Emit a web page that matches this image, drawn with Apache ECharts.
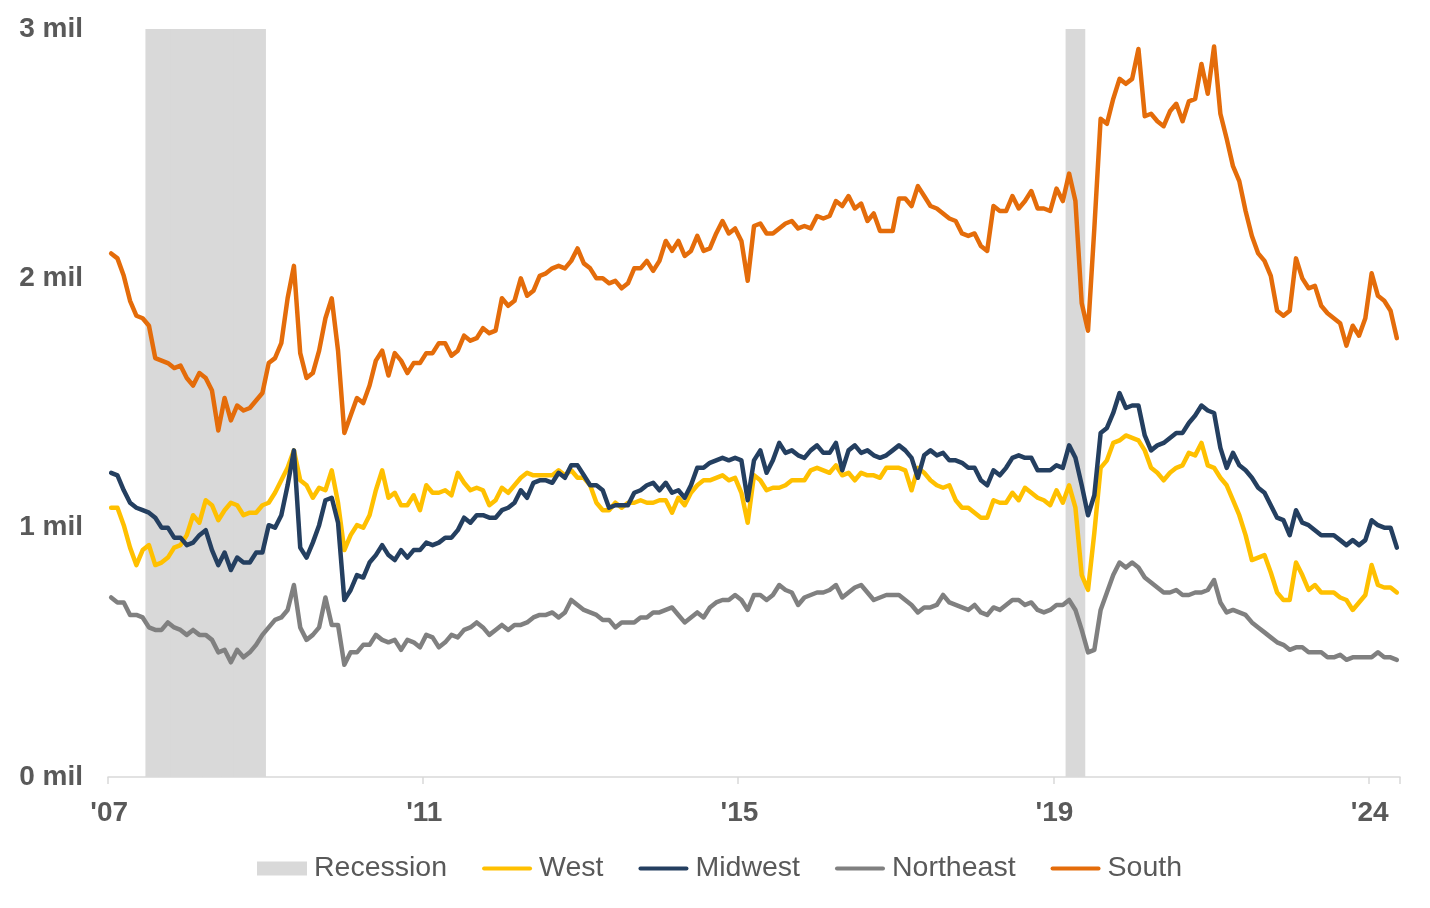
<!DOCTYPE html>
<html>
<head>
<meta charset="utf-8">
<script src="https://cdn.jsdelivr.net/npm/echarts@6/dist/echarts.min.js"></script>
<style>
  html, body { margin: 0; padding: 0; background: #ffffff; }
  #chart { width: 1430px; height: 908px; }
</style>
</head>
<body>
<div id="chart"></div>
<script>
// Monthly data, June 2007 .. June 2024 (values in millions)
const startYear = 2007;
const startMonth = 6;

const tickLabels = ["'07", "'11", "'15", "'19", "'24"];
const yTickLabels = ['0 mil', '1 mil', '2 mil', '3 mil'];

const recessionPeriods = [['2007-12', '2009-06'], ['2020-02', '2020-04']];

const south = [
  2.10, 2.08, 2.01, 1.91, 1.85, 1.84, 1.81, 1.68, 1.67, 1.66,
  1.64, 1.65, 1.60, 1.57, 1.62, 1.60, 1.55, 1.39, 1.52, 1.43,
  1.49, 1.47, 1.48, 1.51, 1.54, 1.66, 1.68, 1.74, 1.92, 2.05,
  1.70, 1.60, 1.62, 1.71, 1.84, 1.92, 1.71, 1.38, 1.45, 1.52,
  1.50, 1.57, 1.67, 1.71, 1.61, 1.70, 1.67, 1.62, 1.66, 1.66,
  1.70, 1.70, 1.74, 1.74, 1.69, 1.71, 1.77, 1.75, 1.76, 1.80,
  1.78, 1.79, 1.92, 1.89, 1.91, 2.00, 1.93, 1.95, 2.01, 2.02,
  2.04, 2.05, 2.04, 2.07, 2.12, 2.06, 2.04, 2.00, 2.00, 1.98,
  1.99, 1.96, 1.98, 2.04, 2.04, 2.07, 2.03, 2.07, 2.15, 2.11,
  2.15, 2.09, 2.11, 2.17, 2.11, 2.12, 2.18, 2.23, 2.18, 2.20,
  2.15, 1.99, 2.21, 2.22, 2.18, 2.18, 2.20, 2.22, 2.23, 2.20,
  2.21, 2.20, 2.25, 2.24, 2.25, 2.31, 2.29, 2.33, 2.28, 2.30,
  2.23, 2.26, 2.19, 2.19, 2.19, 2.32, 2.32, 2.29, 2.37, 2.33,
  2.29, 2.28, 2.26, 2.24, 2.23, 2.18, 2.17, 2.18, 2.13, 2.11,
  2.29, 2.27, 2.27, 2.33, 2.28, 2.31, 2.35, 2.28, 2.28, 2.27,
  2.36, 2.31, 2.42, 2.31, 1.90, 1.79, 2.20, 2.64, 2.62, 2.72,
  2.80, 2.78, 2.80, 2.92, 2.65, 2.66, 2.63, 2.61, 2.67, 2.70,
  2.63, 2.71, 2.72, 2.86, 2.74, 2.93, 2.66, 2.56, 2.45, 2.39,
  2.27, 2.17, 2.10, 2.07, 2.01, 1.87, 1.85, 1.87, 2.08, 2.00,
  1.96, 1.97, 1.89, 1.86, 1.84, 1.82, 1.73, 1.81, 1.77, 1.84,
  2.02, 1.93, 1.91, 1.87, 1.76
];

const midwest = [
  1.22, 1.21, 1.15, 1.10, 1.08, 1.07, 1.06, 1.04, 1.00, 1.00,
  0.96, 0.96, 0.93, 0.94, 0.97, 0.99, 0.91, 0.85, 0.90, 0.83,
  0.88, 0.86, 0.86, 0.90, 0.90, 1.01, 1.00, 1.05, 1.17, 1.31,
  0.92, 0.88, 0.94, 1.01, 1.11, 1.12, 1.02, 0.71, 0.75, 0.81,
  0.80, 0.86, 0.89, 0.93, 0.89, 0.87, 0.91, 0.88, 0.91, 0.91,
  0.94, 0.93, 0.94, 0.96, 0.96, 0.99, 1.04, 1.02, 1.05, 1.05,
  1.04, 1.04, 1.07, 1.08, 1.10, 1.15, 1.12, 1.18, 1.19, 1.19,
  1.18, 1.22, 1.20, 1.25, 1.25, 1.21, 1.17, 1.17, 1.15, 1.08,
  1.09, 1.09, 1.09, 1.14, 1.15, 1.17, 1.18, 1.15, 1.18, 1.14,
  1.15, 1.12, 1.17, 1.24, 1.24, 1.26, 1.27, 1.28, 1.27, 1.28,
  1.27, 1.11, 1.27, 1.31, 1.22, 1.27, 1.34, 1.30, 1.31, 1.29,
  1.28, 1.31, 1.33, 1.30, 1.30, 1.34, 1.23, 1.31, 1.33, 1.30,
  1.31, 1.29, 1.28, 1.29, 1.31, 1.33, 1.31, 1.28, 1.20, 1.29,
  1.31, 1.29, 1.30, 1.27, 1.27, 1.26, 1.24, 1.24, 1.19, 1.17,
  1.23, 1.21, 1.24, 1.28, 1.29, 1.28, 1.28, 1.23, 1.23, 1.23,
  1.25, 1.24, 1.33, 1.28, 1.17, 1.05, 1.13, 1.38, 1.40, 1.46,
  1.54, 1.48, 1.49, 1.49, 1.37, 1.31, 1.33, 1.34, 1.36, 1.38,
  1.38, 1.42, 1.45, 1.49, 1.47, 1.46, 1.32, 1.24, 1.30, 1.25,
  1.23, 1.20, 1.16, 1.14, 1.09, 1.04, 1.03, 0.97, 1.07, 1.02,
  1.01, 0.99, 0.97, 0.97, 0.97, 0.95, 0.93, 0.95, 0.93, 0.95,
  1.03, 1.01, 1.00, 1.00, 0.92
];

const west = [
  1.08, 1.08, 1.01, 0.92, 0.85, 0.91, 0.93, 0.85, 0.86, 0.88,
  0.92, 0.93, 0.97, 1.05, 1.02, 1.11, 1.09, 1.03, 1.07, 1.10,
  1.09, 1.05, 1.06, 1.06, 1.09, 1.10, 1.14, 1.19, 1.24, 1.31,
  1.19, 1.17, 1.12, 1.16, 1.15, 1.23, 1.10, 0.91, 0.97, 1.01,
  1.00, 1.05, 1.15, 1.23, 1.12, 1.14, 1.09, 1.09, 1.13, 1.07,
  1.17, 1.14, 1.14, 1.15, 1.13, 1.22, 1.18, 1.15, 1.16, 1.15,
  1.09, 1.11, 1.16, 1.14, 1.17, 1.20, 1.22, 1.21, 1.21, 1.21,
  1.21, 1.23, 1.21, 1.23, 1.20, 1.20, 1.17, 1.10, 1.07, 1.07,
  1.10, 1.08, 1.10, 1.10, 1.11, 1.10, 1.10, 1.11, 1.11, 1.06,
  1.12, 1.09, 1.14, 1.17, 1.19, 1.19, 1.20, 1.21, 1.19, 1.20,
  1.14, 1.02, 1.21, 1.19, 1.15, 1.16, 1.16, 1.17, 1.19, 1.19,
  1.19, 1.23, 1.24, 1.23, 1.22, 1.25, 1.21, 1.22, 1.19, 1.22,
  1.21, 1.21, 1.20, 1.24, 1.24, 1.24, 1.23, 1.15, 1.24, 1.22,
  1.19, 1.17, 1.16, 1.17, 1.11, 1.08, 1.08, 1.06, 1.04, 1.04,
  1.11, 1.10, 1.10, 1.14, 1.11, 1.16, 1.14, 1.12, 1.11, 1.09,
  1.15, 1.10, 1.17, 1.08, 0.81, 0.75, 0.98, 1.24, 1.27, 1.34,
  1.35, 1.37, 1.36, 1.35, 1.31, 1.24, 1.22, 1.19, 1.22, 1.24,
  1.25, 1.30, 1.29, 1.34, 1.25, 1.24, 1.20, 1.17, 1.11, 1.05,
  0.97, 0.87, 0.88, 0.89, 0.82, 0.74, 0.71, 0.71, 0.86, 0.81,
  0.75, 0.77, 0.74, 0.74, 0.74, 0.72, 0.71, 0.67, 0.70, 0.73,
  0.85, 0.77, 0.76, 0.76, 0.74
];

const northeast = [
  0.72, 0.70, 0.70, 0.65, 0.65, 0.64, 0.60, 0.59, 0.59, 0.62,
  0.60, 0.59, 0.57, 0.59, 0.57, 0.57, 0.55, 0.50, 0.51, 0.46,
  0.51, 0.48, 0.50, 0.53, 0.57, 0.60, 0.63, 0.64, 0.67, 0.77,
  0.60, 0.55, 0.57, 0.60, 0.72, 0.61, 0.61, 0.45, 0.50, 0.50,
  0.53, 0.53, 0.57, 0.55, 0.54, 0.55, 0.51, 0.55, 0.54, 0.52,
  0.57, 0.56, 0.52, 0.54, 0.57, 0.56, 0.59, 0.60, 0.62, 0.60,
  0.57, 0.59, 0.61, 0.59, 0.61, 0.61, 0.62, 0.64, 0.65, 0.65,
  0.66, 0.64, 0.66, 0.71, 0.69, 0.67, 0.66, 0.65, 0.63, 0.63,
  0.60, 0.62, 0.62, 0.62, 0.64, 0.64, 0.66, 0.66, 0.67, 0.68,
  0.65, 0.62, 0.64, 0.66, 0.64, 0.68, 0.70, 0.71, 0.71, 0.73,
  0.71, 0.67, 0.73, 0.73, 0.71, 0.73, 0.77, 0.75, 0.74, 0.69,
  0.72, 0.73, 0.74, 0.74, 0.75, 0.77, 0.72, 0.74, 0.76, 0.77,
  0.74, 0.71, 0.72, 0.73, 0.73, 0.73, 0.71, 0.69, 0.66, 0.68,
  0.68, 0.69, 0.73, 0.70, 0.69, 0.68, 0.67, 0.69, 0.66, 0.65,
  0.68, 0.67, 0.69, 0.71, 0.71, 0.69, 0.70, 0.67, 0.66, 0.67,
  0.69, 0.69, 0.71, 0.67, 0.59, 0.50, 0.51, 0.67, 0.74, 0.81,
  0.86, 0.84, 0.86, 0.84, 0.80, 0.78, 0.76, 0.74, 0.74, 0.75,
  0.73, 0.73, 0.74, 0.74, 0.75, 0.79, 0.70, 0.66, 0.67, 0.66,
  0.65, 0.62, 0.60, 0.58, 0.56, 0.54, 0.53, 0.51, 0.52, 0.52,
  0.50, 0.50, 0.50, 0.48, 0.48, 0.49, 0.47, 0.48, 0.48, 0.48,
  0.48, 0.50, 0.48, 0.48, 0.47
];

// Build month categories
const categories = [];
for (let i = 0; i < south.length; i++) {
  const m = startMonth - 1 + i;
  const y = startYear + Math.floor(m / 12);
  const mm = (m % 12) + 1;
  categories.push(y + '-' + (mm < 10 ? '0' + mm : '' + mm));
}

const Y_MAX = 3;
const recessionData = categories.map(c =>
  recessionPeriods.some(p => c >= p[0] && c <= p[1]) ? Y_MAX : '-'
);

const FONT = '"Liberation Sans", Arial, sans-serif';
const TEXT = '#595959';
const showEvery = 50;
const LINE_ICON = 'path://M2,0 L48,0 A2,2 0 0 1 48,4 L2,4 A2,2 0 0 1 2,0 Z';

const chart = echarts.init(document.getElementById('chart'), null, { renderer: 'canvas' });

const lineSeries = (name, data, color) => ({
  name, type: 'line', data, symbol: 'none', showSymbol: false,
  lineStyle: { color, width: 4.5, cap: 'round', join: 'round' },
  itemStyle: { color },
  animation: false,
  z: 3
});

chart.setOption({
  animation: false,
  grid: { left: 108, right: 30, top: 29, bottom: 131, containLabel: false },
  legend: {
    bottom: 20,
    left: 252,
    itemWidth: 50,
    itemHeight: 14,
    itemGap: 35,
    textStyle: { fontFamily: FONT, fontSize: 28.5, color: TEXT, padding: [0, 0, 0, 2] },
    data: [
      { name: 'Recession', icon: 'rect' },
      { name: 'West', icon: LINE_ICON },
      { name: 'Midwest', icon: LINE_ICON },
      { name: 'Northeast', icon: LINE_ICON },
      { name: 'South', icon: LINE_ICON }
    ]
  },
  xAxis: {
    type: 'category',
    data: categories,
    boundaryGap: true,
    axisLine: { show: true, lineStyle: { color: '#D9D9D9', width: 1.5 } },
    axisTick: {
      show: true, length: 7,
      interval: (i) => i % showEvery === 0,
      lineStyle: { color: '#D9D9D9', width: 1.5 }
    },
    axisLabel: {
      interval: (i) => i % showEvery === 0,
      formatter: (v, i) => tickLabels[Math.round(i / showEvery)] || '',
      fontFamily: FONT, fontSize: 28, fontWeight: 'bold', color: TEXT,
      margin: 22,
      padding: [0, 4, 0, 0]
    },
    splitLine: { show: false }
  },
  yAxis: {
    type: 'value',
    min: 0, max: Y_MAX, interval: 1,
    axisLine: { show: false },
    axisTick: { show: false },
    splitLine: { show: false },
    axisLabel: {
      formatter: (v) => yTickLabels[Math.round(v)],
      fontFamily: FONT, fontSize: 28, fontWeight: 'bold', color: TEXT,
      margin: 25
    }
  },
  series: [
    {
      name: 'Recession', type: 'bar', data: recessionData,
      barWidth: '112%',
      itemStyle: { color: '#D9D9D9' },
      z: 1, animation: false, silent: true
    },
    lineSeries('West', west, '#FFC000'),
    lineSeries('Midwest', midwest, '#243F60'),
    lineSeries('Northeast', northeast, '#808080'),
    lineSeries('South', south, '#E46C0A')
  ]
});
</script>
</body>
</html>
